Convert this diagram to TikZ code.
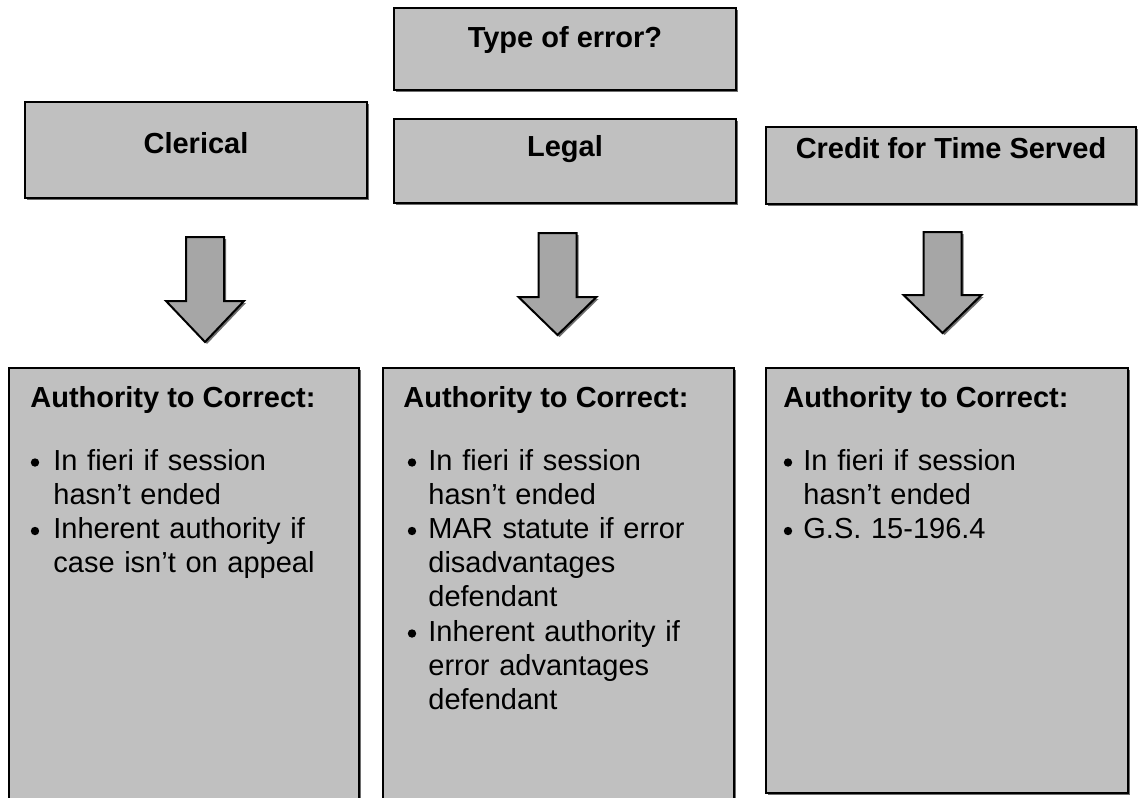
\documentclass[tikz,border=0pt]{standalone}
\usepackage{fontspec}
\setmainfont{Liberation Sans}
\usetikzlibrary{shadows}
\definecolor{boxgray}{RGB}{192,192,192}
\definecolor{arrowgray}{RGB}{166,166,166}
\definecolor{shadegray}{RGB}{110,110,110}

\begin{document}
\begin{tikzpicture}[x=0.5pt,y=-0.5pt,
  shade/.style={drop shadow={shadow xshift=1pt,shadow yshift=-1pt,fill=shadegray,opacity=1}},
  box/.style={draw,line width=1pt,fill=boxgray,shade,inner sep=0pt,anchor=north west,align=center,
    font=\fontsize{14.5}{17.1}\selectfont\bfseries},
  head/.style={inner sep=0pt,anchor=base west,font=\fontsize{14.5}{17.1}\selectfont\bfseries},
  item/.style={inner sep=0pt,anchor=base west,align=left,text width=160pt,
    font=\fontsize{14.5}{17.1}\selectfont},
  dot/.style={circle,fill,inner sep=0pt,minimum size=4.2pt},
  blockarrow/.style={draw,line width=1pt,fill=arrowgray,line join=miter,shade}]

\useasboundingbox (0,0) rectangle (1138,797);
\clip (0,0) rectangle (1138,797);

%question and the three kinds of error:
\node[box,minimum width=171pt,text height=20pt,text depth=21pt] (type) at (393,7) {Type of error?};
\node[box,minimum width=171pt,text height=25.5pt,text depth=22.5pt] (cler) at (24,101) {Clerical};
\node[box,minimum width=171pt,text height=18.5pt,text depth=23.5pt] (legal) at (393,118) {Legal};
\node[box,minimum width=185pt,text height=15.5pt,text depth=23pt] (credit) at (765,126) {Credit for Time Served};

%block arrows:
\foreach \cx/\ty/\hy/\tp in {205/237/301/342, 557.5/233/297/335, 942.5/232/295/333}
  \draw[blockarrow] (\cx-19,\ty) -- (\cx+19,\ty) -- (\cx+19,\hy) -- (\cx+39,\hy)
    -- (\cx,\tp) -- (\cx-39,\hy) -- (\cx-19,\hy) -- cycle;

%authority boxes:
\node[box,minimum width=175pt,minimum height=219pt] (clerauth) at (8,367) {};
\node[box,minimum width=175.5pt,minimum height=219pt] (legalauth) at (382,367) {};
\node[box,minimum width=181pt,minimum height=212.5pt] (creditauth) at (765,367) {};

%clerical
\node[head] (clerhead) at (30,407) {Authority to Correct:};
\node[dot] (clerdota) at (35,462.5) {};
\node[item] (cleritema) at (53,470) {In fieri if session\\hasn’t ended};
\node[dot] (clerdotb) at (35,531) {};
\node[item] (cleritemb) at (53,538.4) {Inherent authority if\\case isn’t on appeal};

%legal
\node[head] (legalhead) at (403,407) {Authority to Correct:};
\node[dot] (legaldota) at (412,462.5) {};
\node[item] (legalitema) at (428,470) {In fieri if session\\hasn’t ended};
\node[dot] (legaldotb) at (412,531) {};
\node[item] (legalitemb) at (428,538.4) {MAR statute if error\\disadvantages\\defendant};
\node[dot] (legaldotc) at (412,633.5) {};
\node[item] (legalitemc) at (428,641) {Inherent authority if\\error advantages\\defendant};

%credit for time served
\node[head] (credithead) at (783,407) {Authority to Correct:};
\node[dot] (creditdota) at (788,462.5) {};
\node[item] (credititema) at (803,470) {In fieri if session\\hasn’t ended};
\node[dot] (creditdotb) at (788,531) {};
\node[item] (credititemb) at (803,538.4) {G.S. 15-196.4};

\end{tikzpicture}
\end{document}
